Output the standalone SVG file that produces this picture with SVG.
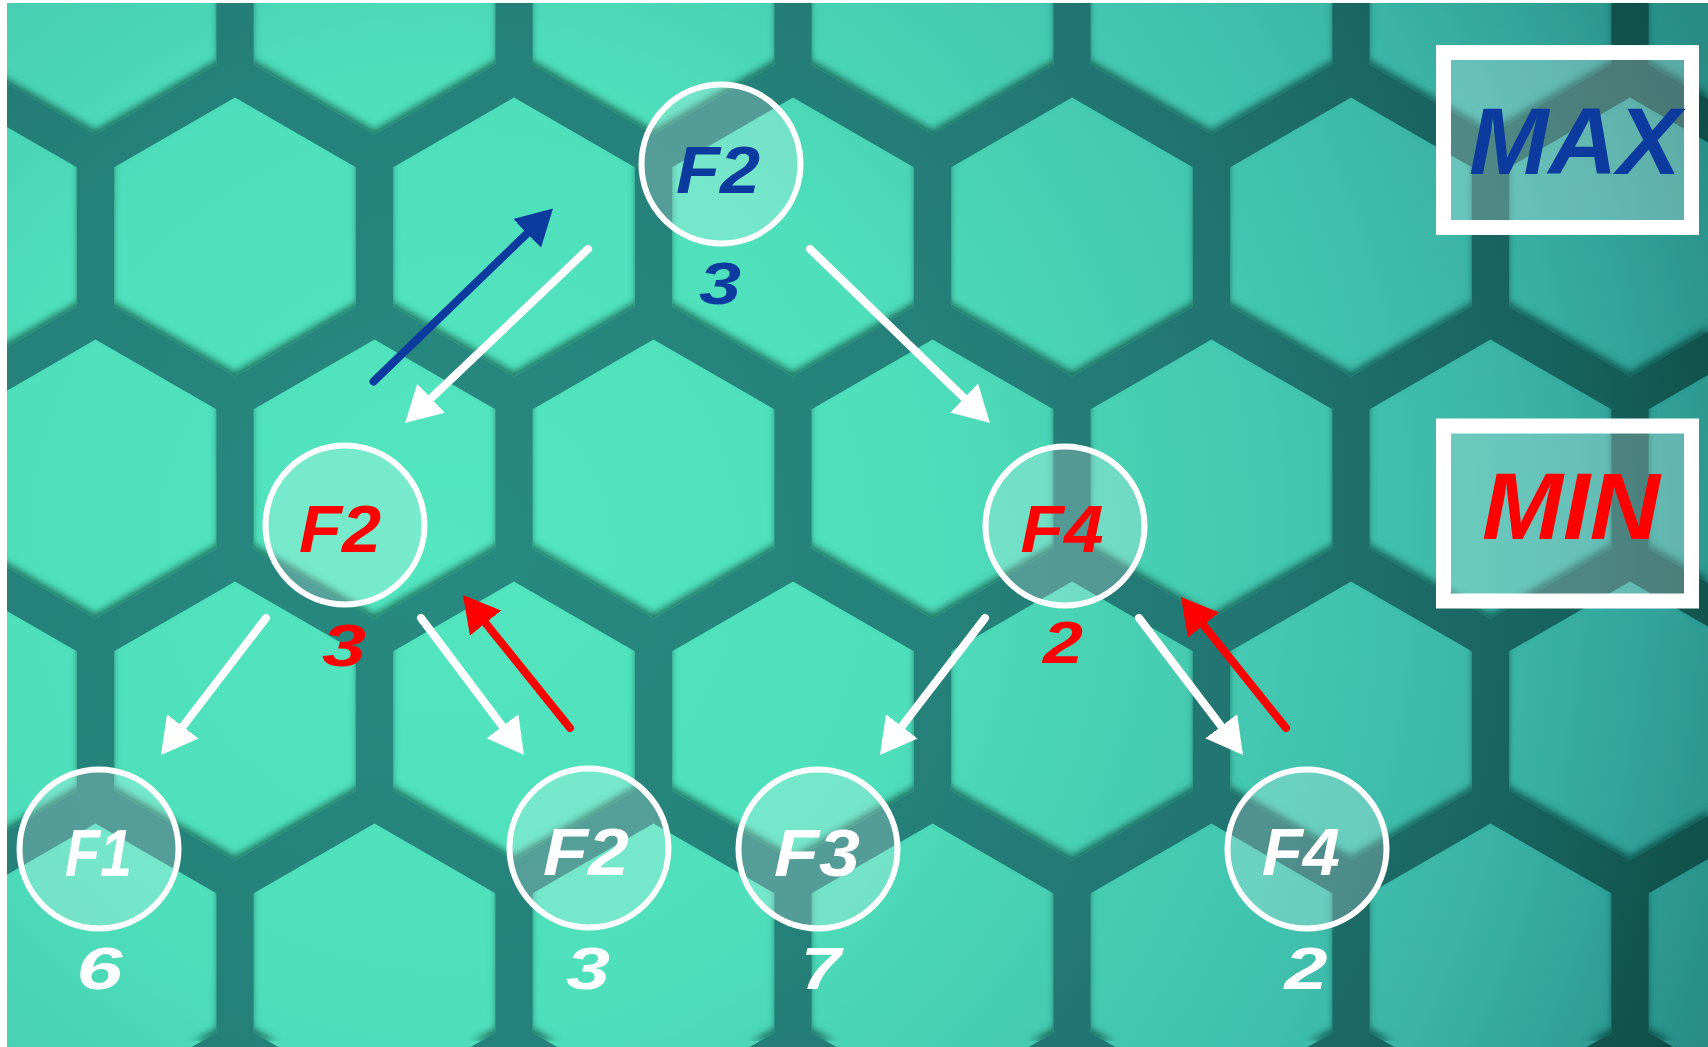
<svg xmlns="http://www.w3.org/2000/svg" xmlns:xlink="http://www.w3.org/1999/xlink" width="1708" height="1047" viewBox="0 0 1708 1047">
  <defs>
    <style>
      .lbl { font-family: "Liberation Sans", Arial, sans-serif; font-weight: bold; font-style: italic; text-anchor: middle; }
      .node { font-size: 66px; }
      .val { font-size: 60px; }
      .lvl { font-size: 95px; }
      .blue { fill: #0d3a9e; }
      .red { fill: #ff0000; }
      .wht { fill: #ffffff; }
      .ring { fill: #ffffff; fill-opacity: 0.22; stroke: #ffffff; stroke-width: 6; }
      .box { fill: #ffffff; fill-opacity: 0.24; stroke: #ffffff; stroke-width: 15; }
      .edge { fill: none; stroke-width: 8; stroke-linecap: round; }
      .e-w { stroke: #ffffff; }
      .e-b { stroke: #0d3a9e; }
      .e-r { stroke: #ff0000; }
    </style>

    <!-- background tones: bright in the left-centre, darkening toward the right edge -->
    <radialGradient id="gapFill" gradientUnits="userSpaceOnUse" cx="450" cy="550" r="1350">
      <stop offset="0" stop-color="#288a81"/>
      <stop offset="0.4" stop-color="#25807a"/>
      <stop offset="0.6" stop-color="#217572"/>
      <stop offset="0.75" stop-color="#1b6864"/>
      <stop offset="0.85" stop-color="#16605c"/>
      <stop offset="0.92" stop-color="#13554f"/>
      <stop offset="1" stop-color="#0f4b48"/>
    </radialGradient>
    <radialGradient id="hexFill" gradientUnits="userSpaceOnUse" cx="450" cy="550" r="1350">
      <stop offset="0" stop-color="#52e6bf"/>
      <stop offset="0.35" stop-color="#4fdfbb"/>
      <stop offset="0.5" stop-color="#48d0b3"/>
      <stop offset="0.65" stop-color="#42c4b0"/>
      <stop offset="0.8" stop-color="#3ab3a6"/>
      <stop offset="0.9" stop-color="#31a199"/>
      <stop offset="1" stop-color="#298b85"/>
    </radialGradient>

    <path id="hx" d="M0,-139.5 L120.8,-69.75 L120.8,69.75 L0,139.5 L-120.8,69.75 L-120.8,-69.75 Z"/>

    <mask id="hexMask" maskUnits="userSpaceOnUse" x="0" y="0" width="1708" height="1047">
      <g fill="#ffffff">
        <use xlink:href="#hx" x="95.5" y="-5"/>
        <use xlink:href="#hx" x="374.5" y="-5"/>
        <use xlink:href="#hx" x="653.5" y="-5"/>
        <use xlink:href="#hx" x="932.5" y="-5"/>
        <use xlink:href="#hx" x="1211.5" y="-5"/>
        <use xlink:href="#hx" x="1490.5" y="-5"/>
        <use xlink:href="#hx" x="1769.5" y="-5"/>

        <use xlink:href="#hx" x="-44" y="237"/>
        <use xlink:href="#hx" x="235" y="237"/>
        <use xlink:href="#hx" x="514" y="237"/>
        <use xlink:href="#hx" x="793" y="237"/>
        <use xlink:href="#hx" x="1072" y="237"/>
        <use xlink:href="#hx" x="1351" y="237"/>
        <use xlink:href="#hx" x="1630" y="237"/>

        <use xlink:href="#hx" x="95.5" y="479"/>
        <use xlink:href="#hx" x="374.5" y="479"/>
        <use xlink:href="#hx" x="653.5" y="479"/>
        <use xlink:href="#hx" x="932.5" y="479"/>
        <use xlink:href="#hx" x="1211.5" y="479"/>
        <use xlink:href="#hx" x="1490.5" y="479"/>
        <use xlink:href="#hx" x="1769.5" y="479"/>

        <use xlink:href="#hx" x="-44" y="721"/>
        <use xlink:href="#hx" x="235" y="721"/>
        <use xlink:href="#hx" x="514" y="721"/>
        <use xlink:href="#hx" x="793" y="721"/>
        <use xlink:href="#hx" x="1072" y="721"/>
        <use xlink:href="#hx" x="1351" y="721"/>
        <use xlink:href="#hx" x="1630" y="721"/>

        <use xlink:href="#hx" x="95.5" y="963"/>
        <use xlink:href="#hx" x="374.5" y="963"/>
        <use xlink:href="#hx" x="653.5" y="963"/>
        <use xlink:href="#hx" x="932.5" y="963"/>
        <use xlink:href="#hx" x="1211.5" y="963"/>
        <use xlink:href="#hx" x="1490.5" y="963"/>
        <use xlink:href="#hx" x="1769.5" y="963"/>
      </g>
    </mask>

    <!-- soft inner shadow along the lower edges of every tile -->
    <filter id="inset" filterUnits="userSpaceOnUse" x="0" y="0" width="1708" height="1047">
      <feComponentTransfer in="SourceAlpha" result="inv">
        <feFuncA type="table" tableValues="1 0"/>
      </feComponentTransfer>
      <feGaussianBlur in="inv" stdDeviation="3" result="blur"/>
      <feOffset in="blur" dy="-6" result="off"/>
      <feFlood flood-color="#073632" flood-opacity="0.75"/>
      <feComposite in2="off" operator="in" result="sh"/>
      <feComposite in="sh" in2="SourceAlpha" operator="in" result="inner"/>
      <feMerge>
        <feMergeNode in="SourceGraphic"/>
        <feMergeNode in="inner"/>
      </feMerge>
    </filter>

    <marker id="ah-w" markerUnits="userSpaceOnUse" viewBox="0 0 36 40" markerWidth="36" markerHeight="40" refX="20" refY="20" orient="auto">
      <path d="M0,0 L36,20 L0,40 Z" fill="#ffffff"/>
    </marker>
    <marker id="ah-b" markerUnits="userSpaceOnUse" viewBox="0 0 36 40" markerWidth="36" markerHeight="40" refX="20" refY="20" orient="auto">
      <path d="M0,0 L36,20 L0,40 Z" fill="#0d3a9e"/>
    </marker>
    <marker id="ah-r" markerUnits="userSpaceOnUse" viewBox="0 0 36 40" markerWidth="36" markerHeight="40" refX="20" refY="20" orient="auto">
      <path d="M0,0 L36,20 L0,40 Z" fill="#ff0000"/>
    </marker>
  </defs>

  <!-- honeycomb backdrop -->
  <g id="backdrop">
    <rect x="0" y="0" width="1708" height="1047" fill="url(#gapFill)"/>
    <g filter="url(#inset)">
      <rect x="0" y="0" width="1708" height="1047" fill="url(#hexFill)" mask="url(#hexMask)"/>
    </g>
    <rect x="0" y="0" width="7" height="1047" fill="#ffffff"/>
    <rect x="0" y="0" width="1708" height="3" fill="#ffffff"/>
  </g>

  <!-- level labels -->
  <g id="level-max">
    <rect class="box" x="1443.5" y="52.5" width="248" height="175"/>
    <text class="lbl lvl blue" x="1575" y="174" textLength="212" lengthAdjust="spacingAndGlyphs">MAX</text>
  </g>
  <g id="level-min">
    <rect class="box" x="1443.5" y="426" width="248" height="175"/>
    <text class="lbl lvl red" x="1571" y="539" textLength="178" lengthAdjust="spacingAndGlyphs">MIN</text>
  </g>

  <!-- connectors -->
  <g id="connectors">
    <line class="edge e-b" x1="373.5" y1="381.5" x2="541.5" y2="219.6" marker-end="url(#ah-b)"/>
    <line class="edge e-w" x1="588" y1="249" x2="416.6" y2="412" marker-end="url(#ah-w)"/>
    <line class="edge e-w" x1="810" y1="249" x2="978.5" y2="411.9" marker-end="url(#ah-w)"/>
    <line class="edge e-w" x1="266" y1="618" x2="170.7" y2="742.3" marker-end="url(#ah-w)"/>
    <line class="edge e-w" x1="421" y1="618" x2="514.4" y2="742.2" marker-end="url(#ah-w)"/>
    <line class="edge e-r" x1="570" y1="728" x2="473" y2="607.5" marker-end="url(#ah-r)"/>
    <line class="edge e-w" x1="985" y1="618" x2="889.7" y2="742.3" marker-end="url(#ah-w)"/>
    <line class="edge e-w" x1="1139" y1="618" x2="1233.3" y2="742.2" marker-end="url(#ah-w)"/>
    <line class="edge e-r" x1="1286" y1="728" x2="1191" y2="609.5" marker-end="url(#ah-r)"/>
  </g>

  <!-- tree nodes -->
  <g id="root-f2">
    <circle class="ring" cx="721" cy="164" r="79.5"/>
    <text class="lbl node blue" x="718" y="193" textLength="84" lengthAdjust="spacingAndGlyphs">F2</text>
    <text class="lbl val blue" x="720" y="304" textLength="42" lengthAdjust="spacingAndGlyphs">3</text>
  </g>
  <g id="min-f2">
    <circle class="ring" cx="345" cy="525" r="79.5"/>
    <text class="lbl node red" x="340" y="552" textLength="82" lengthAdjust="spacingAndGlyphs">F2</text>
    <text class="lbl val red" x="344" y="666" textLength="44" lengthAdjust="spacingAndGlyphs">3</text>
  </g>
  <g id="min-f4">
    <circle class="ring" cx="1065" cy="526" r="79.5"/>
    <text class="lbl node red" x="1062" y="552" textLength="83" lengthAdjust="spacingAndGlyphs">F4</text>
    <text class="lbl val red" x="1063" y="663" textLength="40" lengthAdjust="spacingAndGlyphs">2</text>
  </g>
  <g id="leaf-f1">
    <circle class="ring" cx="99" cy="849" r="79.5"/>
    <text class="lbl node wht" x="98.5" y="876" textLength="67" lengthAdjust="spacingAndGlyphs">F1</text>
    <text class="lbl val wht" x="99.5" y="989" textLength="46" lengthAdjust="spacingAndGlyphs">6</text>
  </g>
  <g id="leaf-f2">
    <circle class="ring" cx="589" cy="848" r="79.5"/>
    <text class="lbl node wht" x="586" y="875" textLength="86" lengthAdjust="spacingAndGlyphs">F2</text>
    <text class="lbl val wht" x="588" y="989" textLength="44" lengthAdjust="spacingAndGlyphs">3</text>
  </g>
  <g id="leaf-f3">
    <circle class="ring" cx="818" cy="849" r="79.5"/>
    <text class="lbl node wht" x="817" y="876" textLength="86" lengthAdjust="spacingAndGlyphs">F3</text>
    <text class="lbl val wht" x="821" y="989" textLength="40" lengthAdjust="spacingAndGlyphs">7</text>
  </g>
  <g id="leaf-f4">
    <circle class="ring" cx="1307" cy="849" r="79.5"/>
    <text class="lbl node wht" x="1301" y="875" textLength="78" lengthAdjust="spacingAndGlyphs">F4</text>
    <text class="lbl val wht" x="1306" y="989" textLength="43" lengthAdjust="spacingAndGlyphs">2</text>
  </g>
</svg>
